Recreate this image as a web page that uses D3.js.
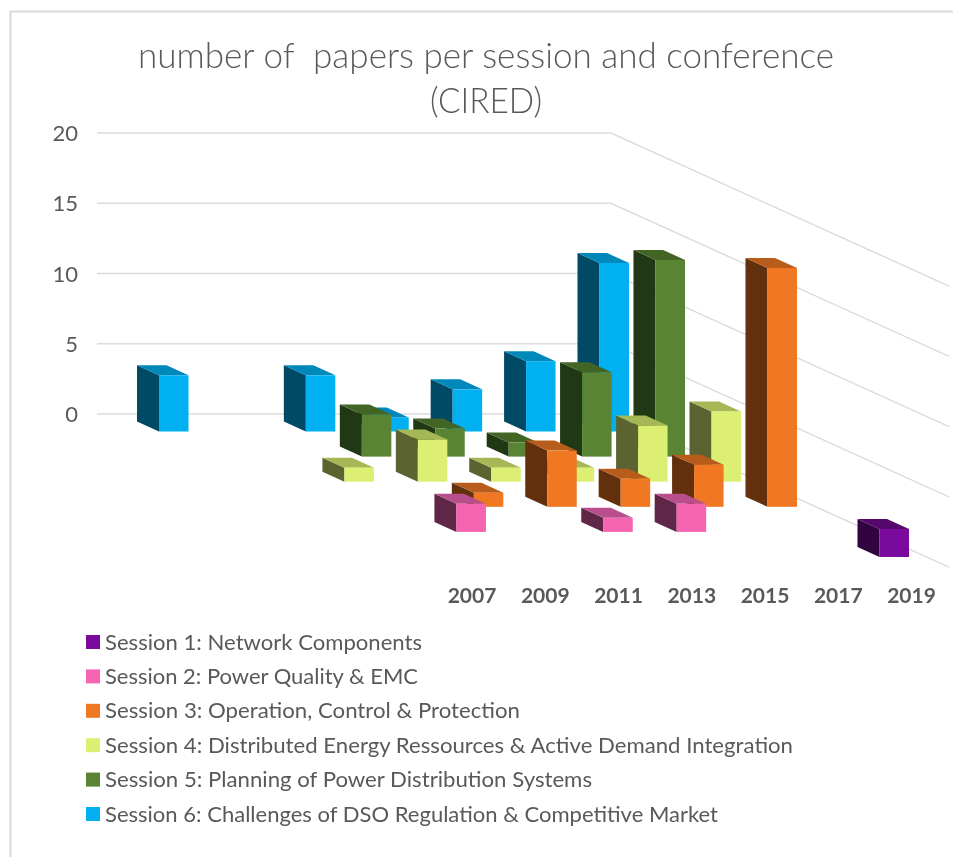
<!DOCTYPE html>
<html><head><meta charset="utf-8">
<script src="https://cdnjs.cloudflare.com/ajax/libs/d3/7.8.5/d3.min.js"></script>
<style>html,body{margin:0;padding:0;background:#fff}svg{display:block;filter:blur(0.45px)}</style>
</head><body><svg id="c" width="953" height="857"></svg>
<script>
const years = ["2007","2009","2011","2013","2015","2017","2019"];
const yTicks = [0,5,10,15,20];
const titleLines = ["number of  papers per session and conference","(CIRED)"];
const sessions = [
 "Session 1: Network Components",
 "Session 2: Power Quality & EMC",
 "Session 3: Operation, Control & Protection",
 "Session 4: Distributed Energy Ressources & Active Demand Integration",
 "Session 5: Planning of Power Distribution Systems",
 "Session 6: Challenges of DSO Regulation & Competitive Market"];
const session1 = [0,0,0,0,0,0,2];
const session2 = [0,2,0,1,2,0,0];
const session3 = [0,0,1,4,2,3,17];
const session4 = [0,1,3,1,1,4,5];
const session5 = [0,0,3,2,1,6,14];
const session6 = [4,0,4,1,3,5,12];
const frontColors = ["#7a0a9e","#f564b0","#f07822","#dcef72","#588434","#00b0f0"];
const sideColors  = ["#32043f","#602648","#63300e","#5b6430","#213814","#004a66"];
const topColors   = ["#55076a","#b84f8c","#b85c1c","#a5b855","#426526","#0088bb"];
const values = [session1,session2,session3,session4,session5,session6];

const svg = d3.select("#c");
const ink = "#595959", grid = "#dcdcdc";
const font = "Lato, 'Open Sans', sans-serif";

// frame
svg.append("path").attr("d","M10.5,857V11.5H953").attr("fill","none").attr("stroke","#d9d9d9").attr("stroke-width",2);

// title
svg.selectAll("text.title").data(titleLines).join("text").attr("class","title")
 .attr("x",486).attr("y",(d,i)=>68+i*45).attr("text-anchor","middle")
 .attr("font-family",font).attr("font-weight",300).attr("font-size",35).attr("fill",ink)
 .attr("textLength",(d,i)=>i?112:696).attr("lengthAdjust","spacingAndGlyphs")
 .style("white-space","pre").text(d=>d);

// scales
const wallY = d3.scaleLinear().domain([0,20]).range([414,133]);
const barH = d3.scaleLinear().domain([0,20]).range([0,281]);
const colX = d3.scalePoint().domain(d3.range(years.length)).range([159,599.5]);
const rowX = d3.scalePoint().domain(d3.range(5,-1,-1)).range([0,280]);
const rowY = d3.scalePoint().domain(d3.range(5,-1,-1)).range([431.5,557]);
const W = 29.5, DX = 22, DY = 10;

// gridlines
const wallRight = 611, edge = 949, slope = 0.453;
svg.append("g").selectAll("path").data(yTicks).join("path")
 .attr("d",v=>`M97,${wallY(v)}H${wallRight}L${edge},${wallY(v)+(edge-wallRight)*slope}`)
 .attr("fill","none").attr("stroke",grid).attr("stroke-width",1.5);

// y labels
svg.append("g").selectAll("text").data(yTicks).join("text")
 .attr("x",78).attr("y",v=>wallY(v)+8).attr("text-anchor","end")
 .attr("font-family",font).attr("font-size",22).attr("fill",ink).text(v=>v);

// bars, back row first
const bars = [];
d3.range(5,-1,-1).forEach(s=>values[s].forEach((v,c)=>{ if(v>0) bars.push({s,c,v}); }));
const g = svg.append("g").selectAll("g").data(bars).join("g");
const L = d=>colX(d.c)+rowX(d.s), B = d=>rowY(d.s), T = d=>B(d)-barH(d.v);
g.append("path").attr("fill",d=>sideColors[d.s])
 .attr("d",d=>`M${L(d)},${B(d)}L${L(d)-DX},${B(d)-DY}V${T(d)-DY}L${L(d)},${T(d)}Z`);
g.append("path").attr("fill",d=>topColors[d.s])
 .attr("d",d=>`M${L(d)},${T(d)}L${L(d)-DX},${T(d)-DY}H${L(d)-DX+W}L${L(d)+W},${T(d)}Z`);
g.append("rect").attr("fill",d=>frontColors[d.s])
 .attr("x",L).attr("y",T).attr("width",W).attr("height",d=>barH(d.v));

// x labels
const labelX = d3.scalePoint().domain(years).range([472,911.5]);
svg.append("g").selectAll("text").data(years).join("text")
 .attr("x",d=>labelX(d)).attr("y",602.5).attr("text-anchor","middle")
 .attr("font-family",font).attr("font-weight",700).attr("font-size",21).attr("fill",ink).text(d=>d);

// legend
const legY = d3.scalePoint().domain(d3.range(6)).range([642,814]);
const leg = svg.append("g").selectAll("g").data(sessions).join("g")
 .attr("transform",(d,i)=>`translate(0,${legY(i)})`);
leg.append("rect").attr("x",86).attr("y",-7).attr("width",14).attr("height",14).attr("fill",(d,i)=>frontColors[i]);
const legLen = [317,313,415,688,487,613];
leg.append("text").attr("x",105).attr("y",7.5).attr("font-family",font).attr("font-size",22).attr("fill",ink)
 .attr("textLength",(d,i)=>legLen[i]).attr("lengthAdjust","spacingAndGlyphs").text(d=>d);
</script></body></html>
